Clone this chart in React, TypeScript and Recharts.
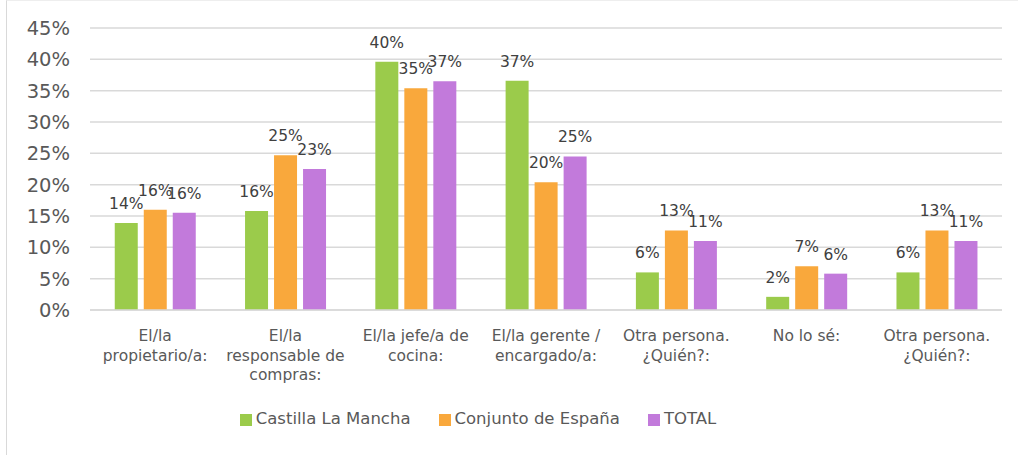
import { BarChart, Bar, XAxis, YAxis, CartesianGrid, Legend, LabelList } from 'recharts';

const categories = [
  'El/la\npropietario/a:',
  'El/la\nresponsable de\ncompras:',
  'El/la jefe/a de\ncocina:',
  'El/la gerente /\nencargado/a:',
  'Otra persona.\n¿Quién?:',
  'No lo sé:',
  'Otra persona.\n¿Quién?:',
];
const castilla = [0.139, 0.158, 0.396, 0.366, 0.06, 0.021, 0.06];
const espana = [0.16, 0.247, 0.354, 0.204, 0.127, 0.07, 0.127];
const total = [0.155, 0.225, 0.365, 0.245, 0.11, 0.058, 0.11];
const yTicks = [0, 0.05, 0.1, 0.15, 0.2, 0.25, 0.3, 0.35, 0.4, 0.45];

const data = categories.map((name, i) => ({
  name,
  castilla: castilla[i],
  espana: espana[i],
  total: total[i],
}));

const FONT = '"Century Gothic", "DejaVu Sans", sans-serif';
const pct = (v: number) => `${Math.round(v * 100)}%`;

const CategoryTick = (props: any) => {
  const { x, y, payload } = props;
  const lines = String(payload.value).split('\n');
  return (
    <g transform={`translate(${x},${y})`}>
      {lines.map((line, i) => (
        <text
          key={i}
          x={0}
          y={23 + i * 19.5}
          textAnchor="middle"
          fill="#595959"
          fontSize={15.5}
          fontFamily={FONT}
        >
          {line}
        </text>
      ))}
    </g>
  );
};

const App = () => {
  return (
    <div style={{ position: 'absolute', left: 0, top: 0, width: 1018, height: 455, background: '#fff' }}>
      <div
        style={{
          position: 'absolute',
          left: 6,
          top: 0,
          width: 1012,
          height: 455,
          borderLeft: '1.5px solid #d9d9d9',
          borderTop: '1px solid #eeeeee',
          boxSizing: 'border-box',
        }}
      />
      <BarChart
        width={1018}
        height={455}
        data={data}
        margin={{ top: 28, right: 16, left: 0, bottom: 0 }}
        barCategoryGap="19%"
        barGap={6}
        style={{ position: 'absolute', left: 0, top: 0 }}
      >
        <CartesianGrid vertical={false} stroke="#d9d9d9" strokeWidth={1.5} />
        <XAxis
          dataKey="name"
          height={145}
          tickLine={false}
          axisLine={{ stroke: '#d9d9d9', strokeWidth: 1.5 }}
          tick={<CategoryTick />}
          interval={0}
        />
        <YAxis
          width={90}
          domain={[0, 0.45]}
          ticks={yTicks}
          tickFormatter={pct}
          axisLine={false}
          tickLine={false}
          tickMargin={14}
          tick={{ fill: '#595959', fontSize: 19.5, fontFamily: FONT }}
        />
        <Legend
          layout="horizontal"
          verticalAlign="middle"
          align="center"
          iconType="square"
          iconSize={12}
          wrapperStyle={{ top: 409, left: 0, width: 984, fontFamily: FONT, fontSize: 16.5 }}
          formatter={(value: string) => (
            <span style={{ color: '#595959', marginRight: 18 }}>{value}</span>
          )}
        />
        <Bar dataKey="castilla" name="Castilla La Mancha" fill="#9bcb4b" isAnimationActive={false}>
          <LabelList
            dataKey="castilla"
            position="top"
            offset={14}
            formatter={(v: any) => pct(Number(v))}
            style={{ fill: '#404040', fontSize: 15.5, fontFamily: FONT }}
          />
        </Bar>
        <Bar dataKey="espana" name="Conjunto de España" fill="#f9a83c" isAnimationActive={false}>
          <LabelList
            dataKey="espana"
            position="top"
            offset={14}
            formatter={(v: any) => pct(Number(v))}
            style={{ fill: '#404040', fontSize: 15.5, fontFamily: FONT }}
          />
        </Bar>
        <Bar dataKey="total" name="TOTAL" fill="#c27adb" isAnimationActive={false}>
          <LabelList
            dataKey="total"
            position="top"
            offset={14}
            formatter={(v: any) => pct(Number(v))}
            style={{ fill: '#404040', fontSize: 15.5, fontFamily: FONT }}
          />
        </Bar>
      </BarChart>
    </div>
  );
};

export default App;
